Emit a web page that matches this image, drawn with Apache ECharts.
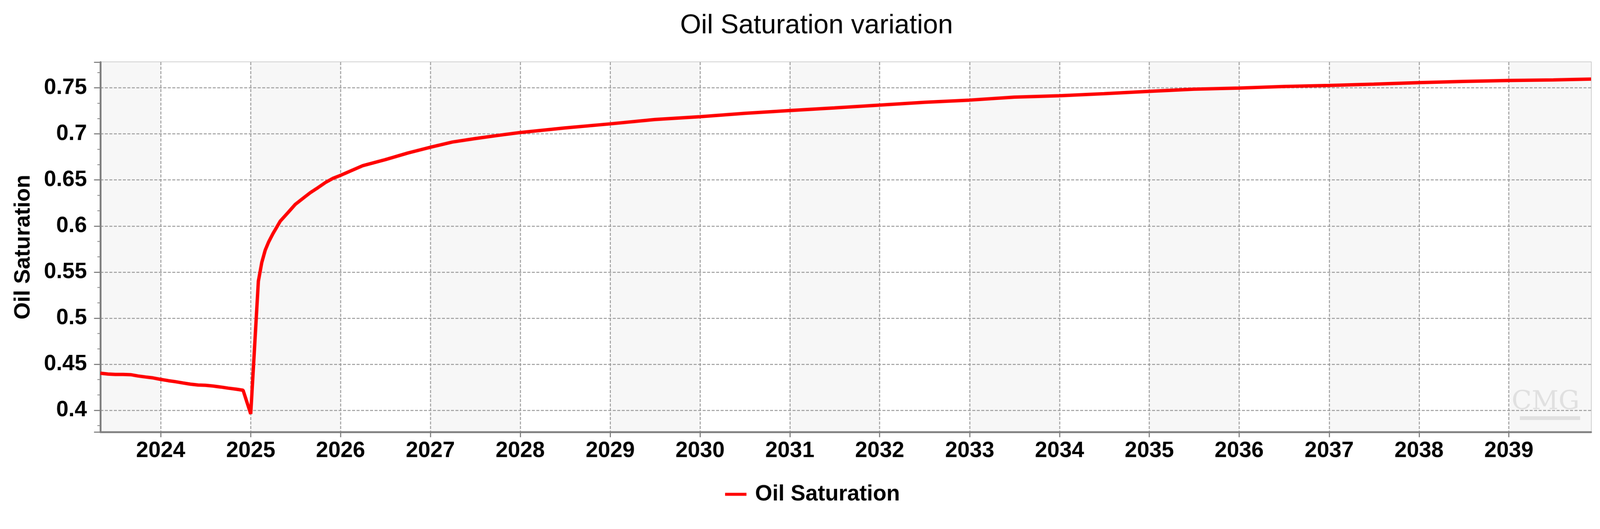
<!DOCTYPE html>
<html>
<head>
<meta charset="utf-8">
<script src="https://cdn.jsdelivr.net/npm/echarts@6/dist/echarts.min.js"></script>
<style>
html,body{margin:0;padding:0;background:#fff;overflow:hidden;}
#wrap{position:absolute;left:0;top:0;transform-origin:0 0;}
#chart{width:4272px;height:1355px;}
</style>
</head>
<body>
<div id="wrap"><div id="chart"></div></div>
<script>
var titleText = 'Oil Saturation variation';
var seriesName = 'Oil Saturation';
var yAxisName = 'Oil Saturation';
var dates = [
  '2023-05-01','2023-06-01','2023-07-01','2023-08-01','2023-09-01','2023-10-01','2023-11-01','2023-12-01',
  '2024-01-01','2024-02-01','2024-03-01','2024-04-01','2024-05-01','2024-06-01','2024-07-01','2024-08-01',
  '2024-09-01','2024-10-01','2024-11-01','2024-12-01','2025-01-01','2025-02-01','2025-02-15','2025-03-01',
  '2025-03-15','2025-04-01','2025-05-01','2025-06-01','2025-07-01','2025-08-01','2025-09-01','2025-10-01',
  '2025-11-01','2025-12-01','2026-01-01','2026-04-01','2026-07-01','2026-10-01','2027-01-01','2027-04-01',
  '2027-07-01','2027-10-01','2028-01-01','2028-07-01','2029-01-01','2029-07-01','2030-01-01','2030-07-01',
  '2031-01-01','2031-07-01','2032-01-01','2032-07-01','2033-01-01','2033-07-01','2034-01-01','2034-07-01',
  '2035-01-01','2035-07-01','2036-01-01','2036-07-01','2037-01-01','2037-07-01','2038-01-01','2038-07-01',
  '2039-01-01','2039-07-01','2039-12-01'
];
var oilSat = [
  0.4402,0.4393,0.4389,0.4389,0.4386,0.4372,0.4361,0.4351,
  0.4335,0.4321,0.4310,0.4296,0.4283,0.4274,0.4271,0.4263,
  0.4252,0.4240,0.4229,0.4217,0.3960,0.5400,0.5605,0.5739,
  0.5828,0.5916,0.6053,0.6144,0.6235,0.6300,0.6364,0.6416,
  0.6473,0.6517,0.6550,0.6655,0.6720,0.6792,0.6855,0.6912,
  0.6949,0.6983,0.7015,0.7065,0.7109,0.7156,0.7187,0.7223,
  0.7254,0.7282,0.7313,0.7343,0.7367,0.7399,0.7414,0.7437,
  0.7462,0.7485,0.7498,0.7515,0.7526,0.7540,0.7557,0.7570,
  0.7580,0.7586,0.7595
];
var xMin = '2023-05-01', xMax = '2039-12-01';
var yMin = 0.3764, yMax = 0.7779;

(function fit() {
  var s = Math.min(window.innerWidth / 4272, window.innerHeight / 1355);
  if (!isFinite(s) || s <= 0) s = 1;
  document.getElementById('wrap').style.transform = 'scale(' + s + ')';
})();

var FONT = '"Liberation Sans", Arial, sans-serif';
var chart = echarts.init(document.getElementById('chart'));
var DAY = 86400000;
chart.setOption({
  animation: false,
  backgroundColor: '#ffffff',
  title: {
    text: titleText, left: 1811, top: 28,
    textStyle: {fontFamily: FONT, fontSize: 72, fontWeight: 'normal', color: '#000'}
  },
  legend: {
    left: 1931, top: 1286, icon: 'rect', itemWidth: 57, itemHeight: 8,
    data: [seriesName],
    textStyle: {fontFamily: FONT, fontSize: 59, fontWeight: 'bold', color: '#000', padding: [0,0,0,18]}
  },
  grid: {
    left: 268, right: 24, top: 166, bottom: 201,
    show: true, borderColor: '#c0c0c0', borderWidth: 3, backgroundColor: 'transparent'
  },
  graphic: [
    {type: 'text', left: 4036, top: 1040, z: 1, silent: true,
     style: {text: 'CMG', fill: '#e0e0e0', font: '300 70px "DejaVu Serif", serif'}},
    {type: 'rect', z: 1, silent: true, shape: {x: 4058, y: 1112, width: 161, height: 10},
     style: {fill: '#e0e0e0'}}
  ],
  xAxis: {
    type: 'time', min: xMin, max: xMax, z: 0,
    splitNumber: 16, minInterval: 365 * DAY, maxInterval: 366 * DAY,
    axisLine: {show: true, onZero: false, lineStyle: {color: '#808080', width: 5}},
    axisTick: {show: true, length: 14, lineStyle: {color: '#808080', width: 3}},
    axisLabel: {
      formatter: '{yyyy}', margin: 21, showMinLabel: false, showMaxLabel: false,
      fontFamily: FONT, fontSize: 59, fontWeight: 'bold', color: '#000'
    },
    splitLine: {show: true, showMinLine: false, showMaxLine: false,
      lineStyle: {color: '#999999', width: 2.5, type: [8, 4]}},
    splitArea: {show: true, areaStyle: {color: ['#f7f7f7', '#ffffff']}}
  },
  yAxis: {
    type: 'value', min: yMin, max: yMax, splitNumber: 8, z: 1,
    name: yAxisName, nameLocation: 'middle', nameGap: 176,
    nameTextStyle: {fontFamily: FONT, fontSize: 59, fontWeight: 'bold', color: '#000'},
    axisLine: {show: true, lineStyle: {color: '#808080', width: 5}},
    axisTick: {show: true, length: 17, lineStyle: {color: '#808080', width: 3}},
    minorTick: {show: true, splitNumber: 3, length: 8, lineStyle: {color: '#808080', width: 2}},
    axisLabel: {
      margin: 36, showMinLabel: false, showMaxLabel: false,
      fontFamily: FONT, fontSize: 59, fontWeight: 'bold', color: '#000',
      formatter: function (v) { return String(Math.round(v * 100) / 100); }
    },
    splitLine: {show: true, showMinLine: false, showMaxLine: false,
      lineStyle: {color: '#999999', width: 2.5, type: [8, 4]}},
    splitArea: {show: false}
  },
  series: [{
    name: seriesName, type: 'line', showSymbol: false, symbol: 'none', z: 3,
    lineStyle: {color: '#ff0000', width: 9}, itemStyle: {color: '#ff0000'},
    data: dates.map(function (d, i) { return [d, oilSat[i]]; })
  }]
});
</script>
</body>
</html>
